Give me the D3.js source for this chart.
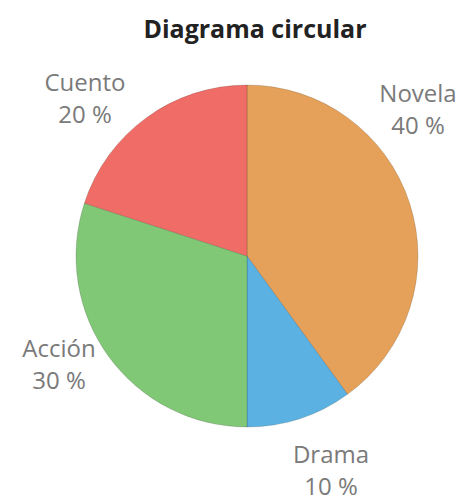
<!DOCTYPE html>
<meta charset="utf-8">
<script src="https://d3js.org/d3.v7.min.js"></script>
<style>
  body { margin: 0; background: #fff; }
  text { font-family: "Open Sans", sans-serif; }
</style>
<div id="pie"></div>
<script>
// data
var categories = ["Novela", "Drama", "Acción", "Cuento"];
var values = [40, 10, 30, 20];
var colors = ["#E5A059", "#5BB1E1", "#80C776", "#EF6D66"];

var width = 458, height = 501;
var cx = 247, cy = 256, radius = 171;

// where each label sits (first line baseline)
var labelPos = {
  "Novela": [418, 102],
  "Drama": [331, 463],
  "Acción": [59, 357],
  "Cuento": [85, 91]
};

var svg = d3.select("#pie")
  .append("svg")
    .attr("width", width)
    .attr("height", height);

svg.append("text")
  .attr("x", 255)
  .attr("y", 38)
  .attr("text-anchor", "middle")
  .style("font-size", "25px")
  .style("font-weight", "bold")
  .style("fill", "#222")
  .text("Diagrama circular");

var color = d3.scaleOrdinal().domain(categories).range(colors);

var pie = d3.pie().sort(null).value(function(d, i) { return values[i]; });
var arc = d3.arc().innerRadius(0).outerRadius(radius);

var g = svg.append("g")
  .attr("transform", "translate(" + cx + "," + cy + ")");

g.selectAll("path")
  .data(pie(categories))
  .enter()
  .append("path")
    .attr("d", arc)
    .attr("fill", function(d) { return color(d.data); })
    .attr("stroke", "rgba(0,0,0,0.15)")
    .attr("stroke-width", 1);

// labels
var labels = svg.selectAll(".lbl")
  .data(categories)
  .enter()
  .append("text")
    .attr("class", "lbl")
    .attr("text-anchor", "middle")
    .style("font-size", "24px")
    .style("fill", "#7a7a7a");

labels.append("tspan")
  .attr("x", function(d) { return labelPos[d][0]; })
  .attr("y", function(d) { return labelPos[d][1]; })
  .text(function(d) { return d; });

labels.append("tspan")
  .attr("x", function(d) { return labelPos[d][0]; })
  .attr("dy", 32)
  .text(function(d, i) { return values[i] + " %"; });
</script>
